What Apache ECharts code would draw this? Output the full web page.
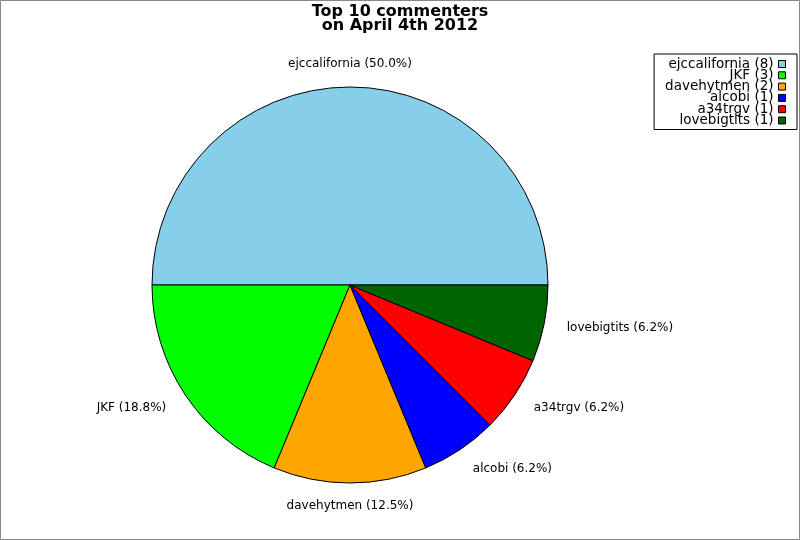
<!DOCTYPE html>
<html>
<head>
<meta charset="utf-8">
<script src="https://cdn.jsdelivr.net/npm/echarts@6/dist/echarts.min.js"></script>
<style>
html,body{margin:0;padding:0;background:#fff;}
#c{width:800px;height:540px;}
</style>
</head>
<body>
<div id="c"></div>
<script>
const names = ['ejccalifornia','JKF','davehytmen','alcobi','a34trgv','lovebigtits'];
const counts = [8,3,2,1,1,1];
const colors = ['#87CEEB','#00FF00','#FFA500','#0000FF','#FF0000','#006400'];
const titleText = 'Top 10 commenters\non April 4th 2012';

const total = counts.reduce((a,b)=>a+b,0);
function pct(v){
  const x = v/total*1000;
  let f = Math.floor(x);
  const d = x - f;
  if (Math.abs(d-0.5) < 1e-9) { if (f % 2 !== 0) f += 1; }
  else if (d > 0.5) f += 1;
  return (f/10).toFixed(1);
}
let acc = 0;
const mids = counts.map(c => { const m = (acc + c/2)/total*360; acc += c; return m; });
const centred = mids.map(m => Math.abs(m-90) < 1 || Math.abs(m-270) < 1);

const chart = echarts.init(document.getElementById('c'));
chart.setOption({
  animation:false,
  backgroundColor:'#fff',
  textStyle:{fontFamily:'DejaVu Sans'},
  title:{
    text:titleText,
    left:'center',
    top:0,
    textStyle:{fontFamily:'DejaVu Sans',fontSize:16,fontWeight:'bold',color:'#000',lineHeight:14}
  },
  graphic:[{
    type:'rect',
    shape:{x:0.5,y:0.5,width:799,height:539},
    style:{fill:'none',stroke:'#888',lineWidth:1},
    silent:true
  }],
  legend:{
    orient:'vertical',
    right:3,
    top:54,
    padding:[3,11,2,11],
    borderColor:'#000',
    borderWidth:1,
    backgroundColor:'#fff',
    itemGap:-2.7,
    itemWidth:7,
    itemHeight:7,
    align:'right',
    icon:'rect',
    selectedMode:false,
    data:names,
    formatter:function(n){return n+' ('+counts[names.indexOf(n)]+')';},
    textStyle:{fontFamily:'DejaVu Sans',fontSize:13.5,color:'#000',width:105,align:'right'},
    itemStyle:{borderColor:'#000',borderWidth:1}
  },
  series:[{
    type:'pie',
    center:[350,285],
    radius:198,
    startAngle:0,
    clockwise:false,
    avoidLabelOverlap:false,
    label:{
      show:true,
      position:'outside',
      fontFamily:'DejaVu Sans',
      fontSize:12,
      color:'#000',
      distanceToLabelLine:0,
      formatter:function(p){return p.name+' ('+pct(p.value)+'%)';}
    },
    labelLine:{show:false,length:23,length2:0},
    labelLayout:function(p){
      return centred[p.dataIndex] ? {align:'center'} : {};
    },
    itemStyle:{borderColor:'#000',borderWidth:1},
    emphasis:{disabled:true},
    data:names.map((n,i)=>({name:n,value:counts[i],itemStyle:{color:colors[i]}}))
  }]
});
</script>
</body>
</html>
